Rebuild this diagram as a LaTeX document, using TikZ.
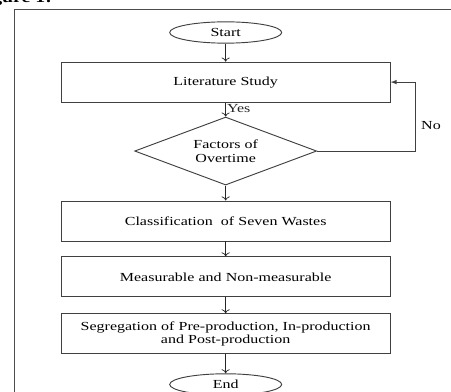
\documentclass[tikz,border=0pt]{standalone}
\usepackage{fontspec}
\setmainfont{Liberation Serif}[FakeStretch=1.3]
\usetikzlibrary{positioning,arrows,arrows.meta,shapes.geometric}

\begin{document}
\begin{tikzpicture}
[node distance = 0.45cm, auto,
every node/.style={font=\fontsize{10.5}{11.5}\selectfont},
stepbox/.style={rectangle, draw=black!75, line width=0.8pt,
text width=9.6cm, align=center, minimum width=9.87cm, minimum height=1.2cm, inner sep=0pt},
terminal/.style={ellipse, draw=black!75, line width=0.8pt,
minimum width=3.36cm, minimum height=0.64cm, inner sep=0pt},
decision/.style={diamond, draw=black!75, line width=0.8pt, aspect=2.7,
minimum width=5.46cm, minimum height=2.04cm, inner sep=0pt, align=center}]

\useasboundingbox (0,0) rectangle (13.53,-11.76);

% caption cut off at the top
\node [anchor=base east, font=\fontsize{13}{15}\selectfont\bfseries] (caption) at (1.68,-0.09) {Figure 1:};

% outer frame
\draw [black!70, line width=0.8pt] (0.42,-12.5) -- (0.42,-0.285) -- (14,-0.285);

% Draw steps
\node [terminal] (start) at (6.77,-0.975) {Start};
\node [stepbox, below=0.54cm of start] (lit) {Literature Study};
\node [decision, below=0.42cm of lit] (factors) {Factors of\\Overtime};
\node [stepbox, below=0.45cm of factors] (wastes) {Classification\ \ of Seven Wastes};
\node [stepbox, below=0.45cm of wastes] (measure) {Measurable and Non-measurable};
\node [stepbox, below=0.48cm of measure] (segreg) {Segregation of Pre-production, In-production\\and Post-production};
\node [terminal, below=0.57cm of segreg] (end) {End};

\coordinate (loop) at (12.45,0);

\path[-{To[length=3.5pt,width=7pt]},black!85,line width=0.6pt]
(start) edge (lit)
(lit) edge node [right, inner sep=1pt, pos=0.45] (yes) {Yes} (factors)
(factors) edge (wastes)
(wastes) edge (measure)
(measure) edge (segreg)
(segreg) edge (end);

\draw [-latex, black!75, line width=0.8pt] (factors.east) -- (factors.east -| loop) |- (lit.east);
\node (no) at (12.93,-3.78) {No};

\end{tikzpicture}
\end{document}
